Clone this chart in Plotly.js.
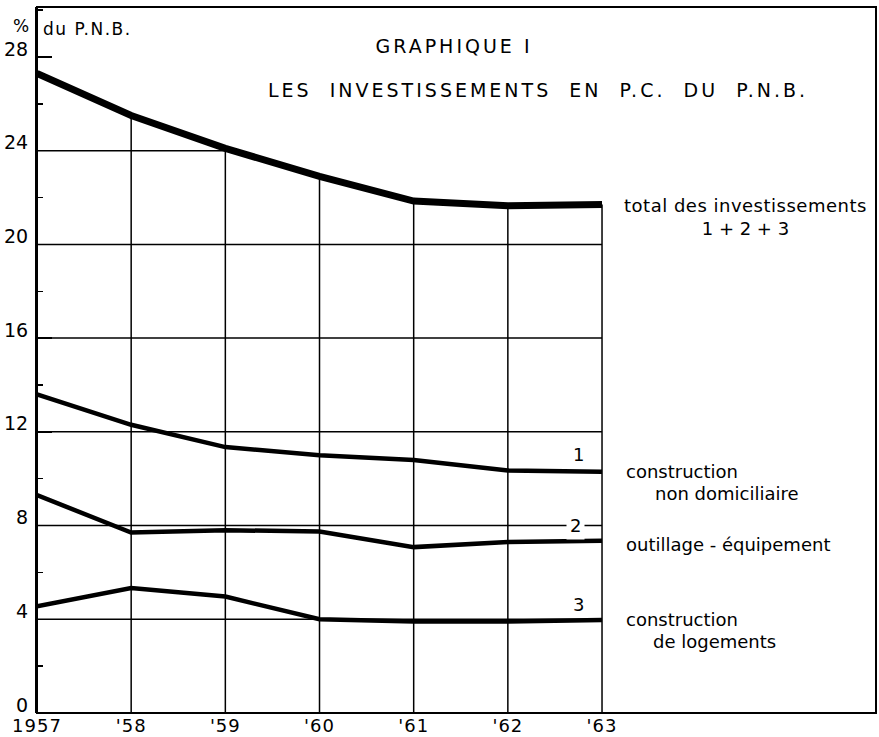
<!DOCTYPE html>
<html>
<head>
<meta charset="utf-8">
<script src="https://cdn.plot.ly/plotly-3.0.1.min.js"></script>
<style>html,body{margin:0;padding:0;background:#fff;}#chart{width:879px;height:737px;}</style>
</head>
<body>
<div id="chart"></div>
<script>
// ---- data ----
const years = [1957, 1958, 1959, 1960, 1961, 1962, 1963];
const xTickText = ['1957', "'58", "'59", "'60", "'61", "'62", "'63"];
const totalInv = [27.3, 25.5, 24.1, 22.9, 21.85, 21.65, 21.7];      // 1+2+3
const nonDomic = [13.6, 12.3, 11.35, 11.0, 10.8, 10.35, 10.3];      // 1
const outillage = [9.3, 7.7, 7.8, 7.75, 7.08, 7.3, 7.35];          // 2
const logements = [4.55, 5.33, 4.97, 4.0, 3.9, 3.9, 3.97];          // 3
const yTickVals = [0, 4, 8, 12, 16, 20, 24, 28];
const yTickText = ['0', '4', '8', '12', '16', '20', '24', '28'];
const gridVals = [4, 8, 12, 16, 20, 24];

const FONT = 'DejaVu Sans, sans-serif';
const last = years.length - 1;
const lastYear = years[last];
const spaced = (s, px) => '<span style="letter-spacing:' + px + 'px">' + s + '</span>';

// vertical grid lines: from 0 up to the total curve
const vgX = [], vgY = [];
for (let i = 1; i < years.length; i++) {
  vgX.push(years[i], years[i], null);
  vgY.push(0, totalInv[i], null);
}
// horizontal grid lines: from 1957 to the point where the total curve falls below
const hgX = [], hgY = [];
gridVals.forEach(v => {
  let xEnd = lastYear;
  for (let i = 1; i < years.length; i++) {
    if (totalInv[i] < v) {
      const f = (totalInv[i - 1] - v) / (totalInv[i - 1] - totalInv[i]);
      xEnd = years[i - 1] + f * (years[i] - years[i - 1]);
      break;
    }
  }
  hgX.push(years[0], xEnd, null);
  hgY.push(v, v, null);
});

const traces = [
  {x: vgX, y: vgY, mode: 'lines', line: {color: '#000', width: 1.5}, hoverinfo: 'skip', showlegend: false},
  {x: hgX, y: hgY, mode: 'lines', line: {color: '#000', width: 1.5}, hoverinfo: 'skip', showlegend: false},
  {x: years, y: totalInv, mode: 'lines', name: 'total', line: {color: '#000', width: 7}},
  {x: years, y: nonDomic, mode: 'lines', name: '1', line: {color: '#000', width: 4.5}},
  {x: years, y: outillage, mode: 'lines', name: '2', line: {color: '#000', width: 4.5}},
  {x: years, y: logements, mode: 'lines', name: '3', line: {color: '#000', width: 4.5}}
];

const txt = (text, x, y, opts) => Object.assign({
  text: text, x: x, y: y, xref: 'x', yref: 'y', showarrow: false,
  xanchor: 'left', yanchor: 'middle', font: {family: FONT, size: 18, color: '#000'}
}, opts || {});

const annotations = [
  // right-hand labels
  txt(spaced('total des investissements', 0.5) + '<br>1 + 2 + 3', lastYear, totalInv[last], {xshift: 20, yanchor: 'top', yshift: 12, align: 'center'}),
  txt('construction', lastYear, nonDomic[last], {xshift: 22}),
  txt('non domiciliaire', lastYear, nonDomic[last], {xshift: 51, yshift: -22}),
  txt('outillage - équipement', lastYear, outillage[last], {xshift: 22, yshift: -4}),
  txt('construction', lastYear, logements[last], {xshift: 22}),
  txt('de logements', lastYear, logements[last], {xshift: 49, yshift: -22}),
  // series numbers
  txt('1', lastYear, nonDomic[last], {xanchor: 'center', xshift: -24, yshift: 17}),
  txt('2', lastYear, outillage[last], {xanchor: 'center', xshift: -27, yshift: 15, bgcolor: '#fff', borderpad: 3}),
  txt('3', lastYear, logements[last], {xanchor: 'center', xshift: -24, yshift: 15}),
  // unit label
  {text: '%', xref: 'paper', yref: 'paper', x: 0, y: 1, xanchor: 'right', yanchor: 'middle', xshift: -6, yshift: -19,
   showarrow: false, font: {family: FONT, size: 17, color: '#000'}},
  {text: spaced('du P.N.B.', 1.5), xref: 'paper', yref: 'paper', x: 0, y: 1, xanchor: 'left', yanchor: 'middle', xshift: 4, yshift: -22,
   showarrow: false, font: {family: FONT, size: 17, color: '#000'}},
  // subtitle
  {text: spaced('LES\u00A0 INVESTISSEMENTS\u00A0 EN\u00A0 P.C.\u00A0 DU\u00A0 P.N.B.', 3), xref: 'paper', yref: 'paper',
   x: (538 - 37) / 839, y: 1, xanchor: 'center', yanchor: 'middle', yshift: -83, showarrow: false,
   font: {family: FONT, size: 19, color: '#000'}}
];

const layout = {
  width: 879, height: 737,
  margin: {l: 37, r: 3, t: 7, b: 24, pad: 0},
  paper_bgcolor: '#fff', plot_bgcolor: '#fff',
  showlegend: false,
  font: {family: FONT, color: '#000'},
  title: {text: spaced('GRAPHIQUE I', 3), x: 454 / 879, xref: 'container', xanchor: 'center',
          y: 1 - 46 / 737, yref: 'container', yanchor: 'middle',
          font: {family: FONT, size: 19, color: '#000'}},
  xaxis: {
    range: [1957, 1957 + 839 / 94.17], tickvals: years, ticktext: xTickText.map(t => spaced(t, 1)),
    showgrid: false, zeroline: false, showline: false, ticks: '',
    tickfont: {family: FONT, size: 18, color: '#000'}, ticklabelstandoff: 0
  },
  yaxis: {
    range: [0, 706 / 23.43], tickvals: yTickVals, ticktext: yTickText,
    showgrid: false, zeroline: false, showline: true, linecolor: '#000', linewidth: 2,
    ticks: 'inside', ticklen: 15, tickwidth: 1.5, tickcolor: '#000',
    ticklabelshift: -8, ticklabelstandoff: 3,
    tickfont: {family: FONT, size: 19, color: '#000'},
    minor: {dtick: 2, tick0: 0, ticks: 'inside', ticklen: 6, tickwidth: 1.5, tickcolor: '#000', showgrid: false}
  },
  shapes: [
    {type: 'rect', xref: 'paper', yref: 'paper', x0: 0, x1: 1, y0: 0, y1: 1, line: {color: '#000', width: 2}}
  ],
  annotations: annotations
};

Plotly.newPlot('chart', traces, layout, {displayModeBar: false, staticPlot: true});
</script>
</body>
</html>
